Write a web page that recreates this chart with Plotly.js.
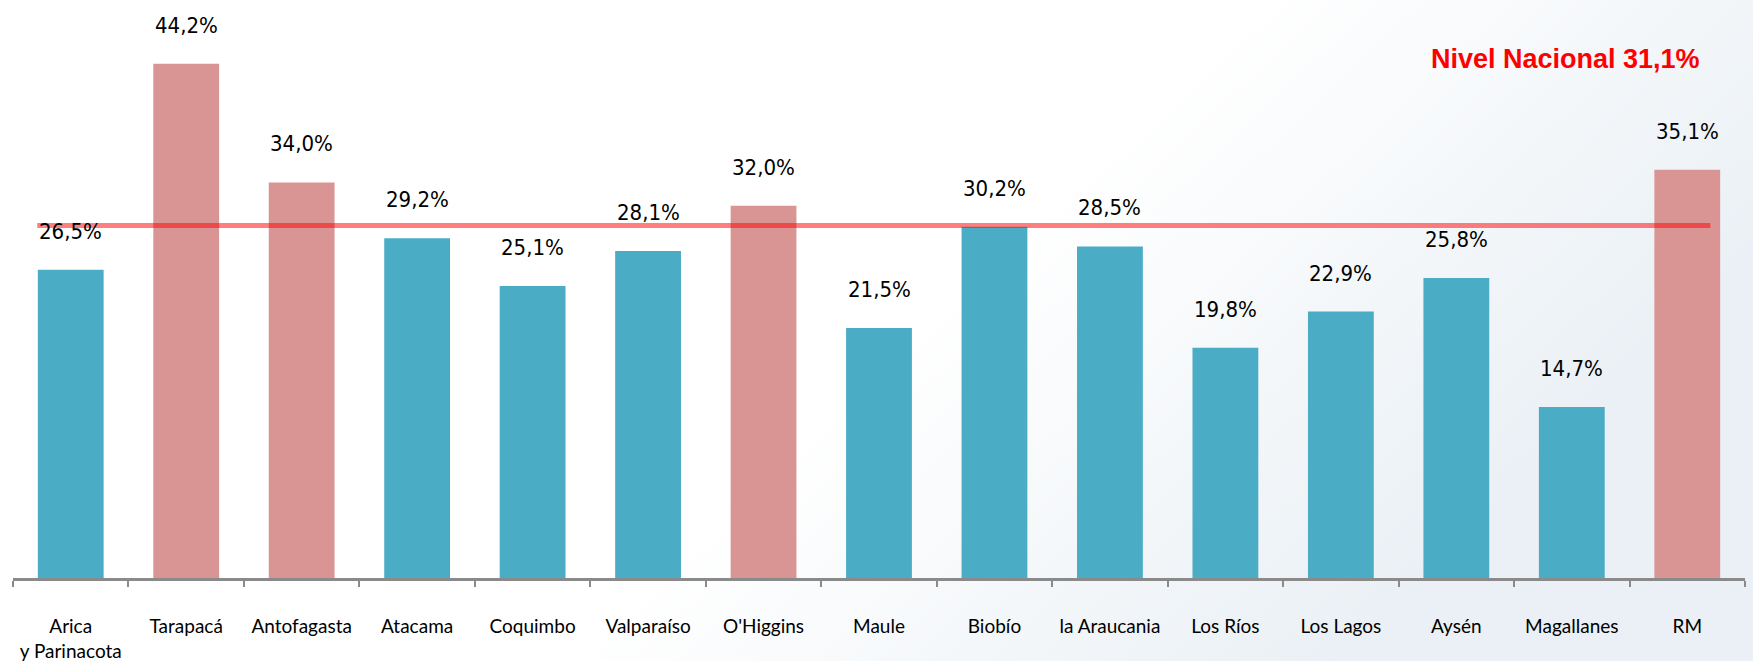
<!DOCTYPE html>
<html>
<head>
<meta charset="utf-8">
<script src="https://cdn.plot.ly/plotly-3.0.1.min.js"></script>
<style>
  html, body { margin: 0; padding: 0; background: #ffffff; }
  #chart { width: 1753px; height: 661px; }
</style>
</head>
<body>
<div id="chart"></div>
<script>
// ---- data ----
const regions = [
  "Arica<br>y Parinacota", "Tarapacá", "Antofagasta", "Atacama", "Coquimbo",
  "Valparaíso", "O'Higgins", "Maule", "Biobío", "la Araucania",
  "Los Ríos", "Los Lagos", "Aysén", "Magallanes", "RM"
];
const values = [26.5, 44.2, 34.0, 29.2, 25.1, 28.1, 32.0, 21.5, 30.2, 28.5, 19.8, 22.9, 25.8, 14.7, 35.1];
const nationalLevel = 31.1;      // value stated in the label
const nationalLineDrawn = 30.3;  // level where the red line is drawn in the picture
const nationalLabel = "Nivel Nacional 31,1%";

// ---- styles ----
const blue = "#4BACC6";
const pink = "#D99594";
const fmt = v => v.toFixed(1).replace(".", ",") + "%";

const barColors = values.map(v => v > nationalLevel ? pink : blue);

const trace = {
  type: "bar",
  x: regions,
  y: values,
  marker: { color: barColors, line: { width: 0 } },
  hoverinfo: "x+y",
  showlegend: false
};

const annotations = values.map((v, i) => ({
  x: regions[i], y: v, xref: "x", yref: "y",
  text: fmt(v), showarrow: false,
  yanchor: "bottom", yshift: 24,
  font: { family: "'Liberation Sans Narrow', 'DejaVu Sans Condensed', Lato, sans-serif", size: 22, color: "#000000" }
}));

annotations.push({
  xref: "paper", yref: "paper", x: (1702 - 13) / 1732, xanchor: "right",
  y: 1, yanchor: "middle", yshift: -51,
  text: "<b>" + nationalLabel + "</b>", showarrow: false,
  font: { family: "'Liberation Sans', Arial, sans-serif", size: 27, color: "#ff0000" }
});

const bgSvg = '<svg xmlns="http://www.w3.org/2000/svg" width="1753" height="661">' +
  '<defs><linearGradient id="g" x1="0" y1="0" x2="1" y2="0.4">' +
  '<stop offset="0" stop-color="#ffffff"/><stop offset="0.62" stop-color="#ffffff"/>' +
  '<stop offset="1" stop-color="#eaf0f5"/></linearGradient></defs>' +
  '<rect width="1753" height="661" fill="url(#g)"/></svg>';

const layout = {
  width: 1753, height: 661,
  margin: { l: 13, r: 8, t: 8, b: 83 },
  paper_bgcolor: "rgba(0,0,0,0)",
  plot_bgcolor: "rgba(0,0,0,0)",
  bargap: 0.43,
  xaxis: {
    type: "category",
    range: [-0.5, 14.5],
    showline: true, linecolor: "#8a8a8a", linewidth: 3,
    ticks: "outside", tickson: "boundaries", ticklen: 6, tickwidth: 2, tickcolor: "#8a8a8a",
    ticklabelstandoff: 29,
    tickfont: { family: "Lato, 'Noto Sans', sans-serif", size: 19, color: "#000000" },
    showgrid: false, zeroline: false, fixedrange: true
  },
  yaxis: {
    range: [0, 49.0],
    visible: false, showgrid: false, zeroline: false, fixedrange: true
  },
  shapes: [{
    type: "line", xref: "x", yref: "y",
    x0: -0.29, x1: 14.2, y0: nationalLineDrawn, y1: nationalLineDrawn,
    line: { color: "rgba(255,0,0,0.5)", width: 5 },
    layer: "above"
  }],
  images: [{
    source: "data:image/svg+xml;base64," + btoa(bgSvg),
    xref: "paper", yref: "paper", x: -13 / 1732, y: 1 + 8 / 570,
    sizex: 1753 / 1732, sizey: 661 / 570, xanchor: "left", yanchor: "top",
    sizing: "stretch", layer: "below"
  }],
  annotations: annotations
};

Plotly.newPlot("chart", [trace], layout, { displayModeBar: false, staticPlot: true });
</script>
</body>
</html>
